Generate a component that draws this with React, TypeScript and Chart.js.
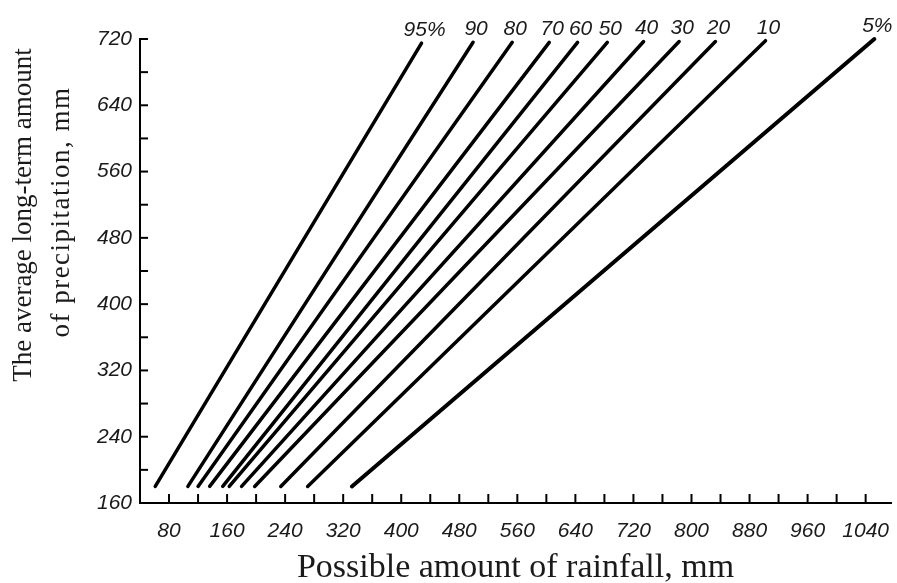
import React, { useEffect, useRef } from 'react';
import { Chart, registerables } from 'chart.js';

Chart.register(...registerables);

// Probability curves (label, start point, end point)
const seriesNames = ['95%', '90', '80', '70', '60', '50', '40', '30', '20', '10', '5%'];
const startX = [61, 106, 120, 136, 154, 163, 180, 198, 234, 271, 332];
const startY = [180, 180, 180, 180, 180, 180, 180, 180, 180, 180, 180];
const endX = [428, 499, 553, 604, 643, 684, 734, 783, 833, 902, 1052];
const endY = [715, 716, 716, 716, 716, 716, 717, 717, 717, 718, 720];

// Axis ticks
const xTickValues = [80, 120, 160, 200, 240, 280, 320, 360, 400, 440, 480, 520, 560, 600, 640, 680, 720, 760, 800, 840, 880, 920, 960, 1000, 1040];
const xLabelValues = [80, 160, 240, 320, 400, 480, 560, 640, 720, 800, 880, 960, 1040];
const yTickValues = [160, 200, 240, 280, 320, 360, 400, 440, 480, 520, 560, 600, 640, 680, 720];
const yLabelValues = [160, 240, 320, 400, 480, 560, 640, 720];

const xTitle = 'Possible amount of rainfall, mm';
const yTitleLines = ['The average long-term amount', 'of precipitation, mm'];

const INK = '#1a1a1a';
const tickFont = { family: 'Liberation Sans', size: 21, style: 'italic' as const };

const decorPlugin = {
  id: 'decor',
  afterDraw(chart: any) {
    const { ctx } = chart;
    const x = chart.scales.x;
    const y = chart.scales.y;
    ctx.save();
    // inward tick marks
    ctx.strokeStyle = '#000';
    ctx.lineWidth = 2;
    x.ticks.forEach((t: any) => {
      const px = x.getPixelForValue(t.value);
      ctx.beginPath();
      ctx.moveTo(px, y.bottom);
      ctx.lineTo(px, y.bottom - 9);
      ctx.stroke();
    });
    y.ticks.forEach((t: any) => {
      if (t.value <= y.min) return;
      const py = y.getPixelForValue(t.value);
      ctx.beginPath();
      ctx.moveTo(x.left, py);
      ctx.lineTo(x.left + 8, py);
      ctx.stroke();
    });
    // curve labels
    ctx.fillStyle = INK;
    ctx.font = 'italic 21px "Liberation Sans"';
    ctx.textAlign = 'center';
    ctx.textBaseline = 'alphabetic';
    seriesNames.forEach((name, i) => {
      const px = x.getPixelForValue(endX[i]);
      const py = y.getPixelForValue(endY[i]);
      ctx.fillText(name, px + 3, py - 7);
    });
    // y axis title (two lines, rotated)
    ctx.font = '27px "Liberation Serif"';
    ctx.textAlign = 'center';
    ctx.textBaseline = 'alphabetic';
    const pos = [
      [31, 215, 0],
      [69, 212, 1.5],
    ];
    yTitleLines.forEach((line, i) => {
      ctx.save();
      (ctx as any).letterSpacing = pos[i][2] + 'px';
      ctx.translate(pos[i][0], pos[i][1]);
      ctx.rotate(-Math.PI / 2);
      ctx.fillText(line, 0, 0);
      ctx.restore();
    });
    ctx.restore();
  },
};

export default function App() {
  const canvasRef = useRef<HTMLCanvasElement | null>(null);

  useEffect(() => {
    if (!canvasRef.current) return;
    const datasets = seriesNames.map((name, i) => ({
      label: name,
      data: [
        { x: startX[i], y: startY[i] },
        { x: endX[i], y: endY[i] },
      ],
      borderColor: '#000',
      backgroundColor: '#000',
      borderWidth: i === seriesNames.length - 1 ? 4 : 3.5,
      borderCapStyle: 'round' as const,
      pointRadius: 0,
      showLine: true,
      clip: false as any,
    }));

    const chart = new Chart(canvasRef.current, {
      type: 'scatter',
      data: { datasets },
      options: {
        responsive: false,
        animation: false,
        layout: { padding: { top: 39, right: 0, left: 0, bottom: 0 } },
        plugins: {
          legend: { display: false },
          tooltip: { enabled: false },
        },
        scales: {
          x: {
            type: 'linear',
            min: 40,
            max: 1075,
            afterBuildTicks: (s: any) => {
              s.ticks = xTickValues.map((v) => ({ value: v }));
            },
            afterFit: (s: any) => {
              s.height = 80;
            },
            grid: { display: false },
            border: { display: true, color: '#000', width: 2 },
            ticks: {
              autoSkip: false,
              maxRotation: 0,
              padding: 8,
              color: INK,
              font: tickFont,
              callback: (v: any) => (xLabelValues.includes(Number(v)) ? String(v) : ''),
            },
            title: {
              display: true,
              text: xTitle,
              color: INK,
              font: { family: 'Liberation Serif', size: 34 },
              padding: { top: 0, bottom: -5 },
            },
          },
          y: {
            type: 'linear',
            min: 160,
            max: 720,
            afterBuildTicks: (s: any) => {
              s.ticks = yTickValues.map((v) => ({ value: v }));
            },
            afterFit: (s: any) => {
              s.width = 140;
            },
            grid: { display: false },
            border: { display: true, color: '#000', width: 2 },
            ticks: {
              autoSkip: false,
              padding: 0,
              color: INK,
              font: tickFont,
              callback: (v: any) => (yLabelValues.includes(Number(v)) ? String(v) : ''),
            },
          },
        },
      },
      plugins: [decorPlugin],
    });
    return () => chart.destroy();
  }, []);

  return (
    <div style={{ position: 'fixed', left: 0, top: 0, width: 897, height: 583, background: '#fff' }}>
      <canvas ref={canvasRef} width={897} height={583} />
    </div>
  );
}
